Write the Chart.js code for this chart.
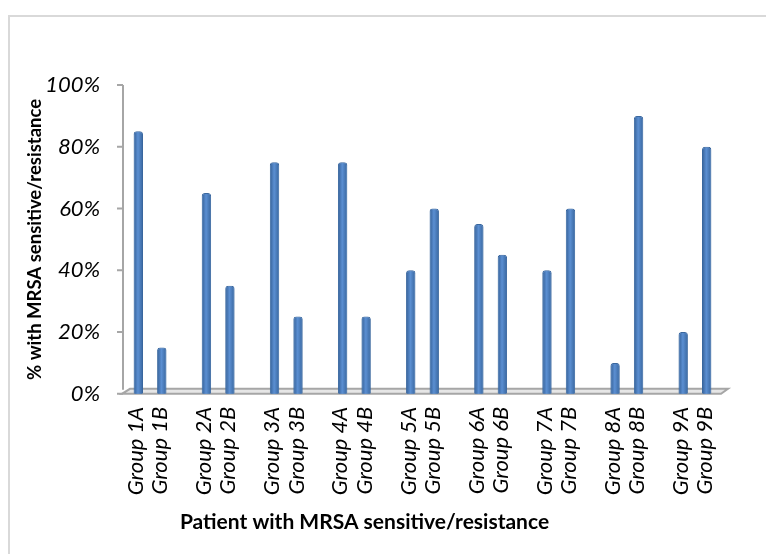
<!DOCTYPE html>
<html>
<head>
<meta charset="utf-8">
<script src="https://cdn.jsdelivr.net/npm/chart.js@4/dist/chart.umd.min.js"></script>
<style>
  html, body { margin: 0; padding: 0; background: #fff; overflow: hidden; }
  #frame {
    position: absolute; left: 8px; top: 15px; width: 800px; height: 600px;
    border-left: 2px solid #d9d9d9; border-top: 2px solid #d9d9d9;
  }
  #wrap { position: absolute; left: 0; top: 0; width: 766px; height: 554px; }
</style>
</head>
<body>
<div id="frame"></div>
<div id="wrap"><canvas id="chart" width="766" height="554"></canvas></div>
<script>
// two-line labels: first line = A bar, second line = B bar
const groupLabels = [
  ["Group 1A", "Group 1B"], ["Group 2A", "Group 2B"], ["Group 3A", "Group 3B"],
  ["Group 4A", "Group 4B"], ["Group 5A", "Group 5B"], ["Group 6A", "Group 6B"],
  ["Group 7A", "Group 7B"], ["Group 8A", "Group 8B"], ["Group 9A", "Group 9B"]
];
const seriesA = [85, 65, 75, 75, 40, 55, 40, 10, 20];
const seriesB = [15, 35, 25, 25, 60, 45, 60, 90, 80];
const yTicks = [0, 20, 40, 60, 80, 100];

const xTitle = "Patient with MRSA sensitive/resistance";
const yTitle = "% with MRSA sensitive/resistance";

const BAR_BLUE = "#4a7ebb";
const BAR_EDGE = "#3a679e";
const AXIS_GREY = "#a6a6a6";

// cylinder-ish shading on top of every bar
const shadePlugin = {
  id: "shade",
  afterDatasetsDraw(chart) {
    const ctx = chart.ctx;
    chart.data.datasets.forEach((ds, i) => {
      chart.getDatasetMeta(i).data.forEach((bar) => {
        const { x, y, base, width } = bar.getProps(["x", "y", "base", "width"], true);
        const l = x - width / 2 + 1, r = x + width / 2 - 1;
        const g = ctx.createLinearGradient(l, 0, r, 0);
        g.addColorStop(0, "#3d6aa3");
        g.addColorStop(0.45, "#5b8fd2");
        g.addColorStop(1, "#3f6ea8");
        ctx.save();
        ctx.fillStyle = g;
        ctx.beginPath();
        ctx.roundRect(l, y + 1, r - l, base - y - 1, [2, 2, 0, 0]);
        ctx.fill();
        ctx.restore();
      });
    });
  }
};

// 3d-ish walls: y axis line with ticks and a flat floor
const wallPlugin = {
  id: "walls",
  beforeDatasetsDraw(chart) {
    const ctx = chart.ctx;
    const { left, right, bottom } = chart.chartArea;
    const ys = chart.scales.y;
    const x0 = left + 7;
    ctx.save();
    ctx.strokeStyle = AXIS_GREY;
    ctx.lineWidth = 2;
    ctx.beginPath();
    ctx.moveTo(x0, ys.getPixelForValue(100));
    ctx.lineTo(x0, bottom - 4);
    yTicks.forEach((v) => {
      const py = ys.getPixelForValue(v);
      ctx.moveTo(x0 - 6, py);
      ctx.lineTo(x0, py);
    });
    ctx.stroke();
    // floor
    ctx.fillStyle = "#e6e6e6";
    ctx.beginPath();
    ctx.moveTo(x0 - 1, bottom);
    ctx.lineTo(right - 8, bottom);
    ctx.lineTo(right - 1, bottom - 5);
    ctx.lineTo(x0 + 7, bottom - 5);
    ctx.closePath();
    ctx.fill();
    ctx.stroke();
    ctx.restore();
  }
};

const barStyle = {
  backgroundColor: BAR_BLUE,
  borderColor: BAR_EDGE,
  borderWidth: 1,
  borderSkipped: "bottom",
  borderRadius: { topLeft: 3, topRight: 3 },
  categoryPercentage: 0.69,
  barPercentage: 0.4
};

new Chart(document.getElementById("chart"), {
  type: "bar",
  data: {
    labels: groupLabels,
    datasets: [
      { label: "A", data: seriesA, ...barStyle },
      { label: "B", data: seriesB, ...barStyle }
    ]
  },
  options: {
    responsive: false,
    animation: false,
    events: [],
    layout: { padding: { left: 0, right: 37, top: 85, bottom: 0 } },
    plugins: {
      legend: { display: false },
      tooltip: { enabled: false },
      title: {
        display: true,
        position: "bottom",
        text: xTitle,
        color: "#000",
        font: { family: "Lato", size: 21, weight: "bold", lineHeight: 1.2 },
        padding: { top: 2, bottom: 19 }
      }
    },
    scales: {
      x: {
        grid: { display: false, drawTicks: false },
        border: { display: false },
        ticks: {
          autoSkip: false,
          maxRotation: 90,
          minRotation: 90,
          padding: 13,
          labelOffset: -14,
          color: "#000",
          font: { family: "Lato", size: 22, style: "italic", lineHeight: 1.1 }
        },
        afterFit(scale) { scale.height = 114; }
      },
      y: {
        min: 0,
        max: 100,
        grid: { display: false, drawTicks: false },
        border: { display: false },
        afterBuildTicks(scale) { scale.ticks = yTicks.map((v) => ({ value: v })); },
        ticks: {
          padding: 16,
          color: "#000",
          font: { family: "Lato", size: 22, style: "italic" },
          callback: (v) => v + "%"
        },
        title: {
          display: true,
          text: yTitle,
          color: "#000",
          font: { family: "Lato", size: 18.5, weight: "bold", lineHeight: 1.2 },
          padding: { top: 24, bottom: 0 }
        },
        afterFit(scale) { scale.width = 116; }
      }
    }
  },
  plugins: [wallPlugin, shadePlugin]
});
</script>
</body>
</html>
